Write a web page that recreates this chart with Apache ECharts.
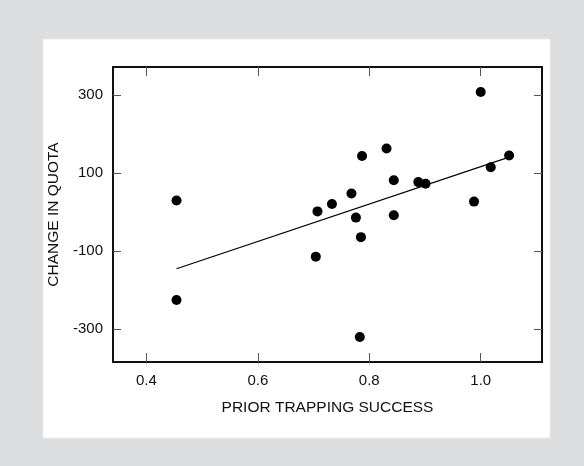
<!DOCTYPE html>
<html>
<head>
<meta charset="utf-8">
<style>html,body{margin:0;padding:0;background:#fff}#c{width:584px;height:466px}</style>
<script src="https://cdn.jsdelivr.net/npm/echarts@6/dist/echarts.min.js"></script>
</head>
<body>
<div id="c"></div>
<script>
// Data
var priorTrappingSuccess = [0.454, 0.454, 0.704, 0.707, 0.733, 0.768, 0.776, 0.785, 0.783, 0.787, 0.831, 0.844, 0.844, 0.888, 0.901, 0.988, 1.000, 1.018, 1.051];
var changeInQuota =        [30,   -225,  -114,   2,     21,    48,    -14,   -64,   -320,  144,   163,   82,    -8,    77,    73,    27,    308,   115,   145];
var fitLineX = [0.454, 1.051];
var fitLineY = [-145, 141];
var xTicks = [0.4, 0.6, 0.8, 1.0];
var yTicks = [-300, -100, 100, 300];

var points = priorTrappingSuccess.map(function (x, i) { return [x, changeInQuota[i]]; });
var fit = fitLineX.map(function (x, i) { return [x, fitLineY[i]]; });

var chart = echarts.init(document.getElementById('c'), null, {renderer: 'canvas'});
var font = 'Liberation Sans, Arial, Helvetica, sans-serif';
var axisLine = {show: true, onZero: false, lineStyle: {color: '#111', width: 2}};
var tickStyle = {lineStyle: {color: '#555', width: 1}};

chart.setOption({
  backgroundColor: '#dcdddf',
  animation: false,
  graphic: [
    {type: 'rect', z: -10, shape: {x: 43, y: 39, width: 507, height: 399}, style: {fill: '#ffffff', stroke: '#ececec', lineWidth: 1}}
  ],
  grid: {left: 113, right: 42, top: 67, bottom: 104, containLabel: false},
  xAxis: [
    {
      type: 'value', position: 'bottom', min: 0.34, max: 1.11,
      axisLine: axisLine,
      splitLine: {show: false},
      axisTick: Object.assign({show: true, inside: true, length: 9, customValues: xTicks}, tickStyle),
      axisLabel: {show: true, customValues: xTicks, margin: 11, color: '#111', fontSize: 15, fontFamily: font,
        formatter: function (v) { return v.toFixed(1); }},
      name: 'PRIOR TRAPPING SUCCESS', nameLocation: 'middle', nameGap: 38,
      nameTextStyle: {color: '#111', fontSize: 15.5, fontFamily: font}
    },
    {
      type: 'value', position: 'top', min: 0.34, max: 1.11,
      axisLine: axisLine,
      splitLine: {show: false},
      axisTick: Object.assign({show: true, inside: true, length: 9, customValues: xTicks}, tickStyle),
      axisLabel: {show: false}
    }
  ],
  yAxis: [
    {
      type: 'value', position: 'left', min: -384, max: 372,
      axisLine: axisLine,
      splitLine: {show: false},
      axisTick: Object.assign({show: true, inside: true, length: 8, customValues: yTicks}, tickStyle),
      axisLabel: {show: true, customValues: yTicks, margin: 10, color: '#111', fontSize: 15, fontFamily: font},
      name: 'CHANGE IN QUOTA', nameLocation: 'middle', nameGap: 48,
      nameTextStyle: {color: '#111', fontSize: 15.5, fontFamily: font}
    },
    {
      type: 'value', position: 'right', min: -384, max: 372,
      axisLine: axisLine,
      splitLine: {show: false},
      axisTick: Object.assign({show: true, inside: true, length: 8, customValues: yTicks}, tickStyle),
      axisLabel: {show: false}
    }
  ],
  series: [
    {
      type: 'line', data: fit, xAxisIndex: 0, yAxisIndex: 0,
      symbol: 'none', lineStyle: {color: '#000', width: 1.2}, silent: true, z: 1
    },
    {
      type: 'scatter', data: points, xAxisIndex: 0, yAxisIndex: 0,
      symbol: 'circle', symbolSize: 10, itemStyle: {color: '#000', opacity: 1}, z: 3
    }
  ]
});
</script>
</body>
</html>
